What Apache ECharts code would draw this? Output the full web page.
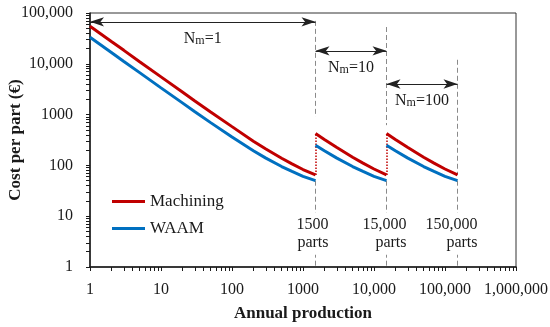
<!DOCTYPE html>
<html><head><meta charset="utf-8">
<script src="https://cdn.jsdelivr.net/npm/echarts@6/dist/echarts.min.js"></script>
<style>html,body{margin:0;padding:0;background:#fff}#c{width:550px;height:327px}</style>
</head><body><div id="c"></div>
<script>
// ---- data ----
const prodSeg1 = [1, 2, 3, 5, 10, 20, 30, 50, 100, 200, 300, 500, 700, 1000, 1500];
const machSeg1 = [55000, 27500, 18400, 11000, 5530, 2780, 1860, 1130, 580, 300, 210, 138, 107, 83, 65];
const waamSeg1 = [33400, 16700, 11100, 6700, 3360, 1700, 1140, 695, 361, 195, 139, 95, 76, 61, 50];
const prodSeg2 = [1500, 2000, 3000, 5000, 7000, 10000, 15000];
const machSeg2 = [425, 325, 225, 145, 111, 85, 65];
const waamSeg2 = [250, 195, 139, 95, 76, 61, 50];
const prodSeg3 = [15000, 20000, 30000, 50000, 70000, 100000, 150000];
const machSeg3 = [425, 325, 225, 145, 111, 85, 65];
const waamSeg3 = [250, 195, 139, 95, 76, 61, 50];

const seriesNames = ['Machining', 'WAAM'];
const dividerX = [1500, 15000, 150000];
const dividerTop = [70000, 53000, 12000];
const dividerUpperEnd = [900, 620, 65];
const dividerLowerStart = [50, 50, 50];
const jumpX = [1500, 15000];
const jumpLow = [65, 65];
const jumpHigh = [425, 425];
const arrowFrom = [1, 1500, 15000];
const arrowTo = [1500, 15000, 150000];
const arrowY = [67000, 18000, 4000];
const arrowNm = ['1', '10', '100'];
const partLabels = ['1500\nparts', '15,000\nparts', '150,000\nparts'];
const partLabelY = 4.5;
const xTickLabels = [1, 10, 100, 1000, 10000, 100000, 1000000];
const yTickLabels = [1, 10, 100, 1000, 10000, 100000];

// ---- styles ----
const FONT = '"Liberation Serif", "DejaVu Serif", serif';
const RED = '#C00000', BLUE = '#0070C0', INK = '#1a1a1a';

function fmt(v) {
  const r = Math.round(v);
  return r >= 10000 ? String(r).replace(/\B(?=(\d{3})+(?!\d))/g, ',') : String(r);
}
function minorTicks(decades) {
  const out = [];
  for (const d of decades.slice(0, -1)) for (let k = 1; k <= 9; k++) out.push(d * k);
  out.push(decades[decades.length - 1]);
  return out;
}
const zip = (xs, ys) => xs.map((x, i) => [x, ys[i]]);

function curve(name, xs, ys, color, z) {
  return { name, type: 'line', data: zip(xs, ys), symbol: 'none', silent: true, z,
    lineStyle: { color, width: 3 }, itemStyle: { color } };
}

const dashedData = [];
dividerX.forEach((x, i) => {
  dashedData.push([{ coord: [x, dividerTop[i]] }, { coord: [x, dividerUpperEnd[i]] }]);
  dashedData.push([{ coord: [x, dividerLowerStart[i]] }, { coord: [x, 1] }]);
});
const jumpData = jumpX.map((x, i) => [{ coord: [x, jumpLow[i]] }, { coord: [x, jumpHigh[i]] }]);
const arrowData = arrowFrom.map((x, i) => [
  { coord: [x, arrowY[i]], label: { formatter: '{n|N}{s|m}{n|=' + arrowNm[i] + '}' } },
  { coord: [arrowTo[i], arrowY[i]] }
]);
const partOffsets = [13, 20, 20];

const chart = echarts.init(document.getElementById('c'), null, { renderer: 'canvas' });
chart.setOption({
  animation: false,
  backgroundColor: '#fff',
  grid: { left: 90, right: 34, top: 13, bottom: 60, show: true, borderColor: '#333', borderWidth: 1,
          backgroundColor: 'transparent', outerBoundsMode: 'none' },
  legend: {
    data: seriesNames, orient: 'vertical', left: 112, top: 193, itemGap: 10, padding: 0,
    itemWidth: 33, itemHeight: 3, icon: 'rect',
    textStyle: { fontFamily: FONT, fontSize: 17, color: INK }
  },
  xAxis: {
    type: 'log', logBase: 10, min: 1, max: 1000000, interval: 1,
    name: 'Annual production', nameLocation: 'middle', nameGap: 38, nameMoveOverlap: false,
    nameTextStyle: { fontFamily: FONT, fontSize: 17, fontWeight: 'bold', color: INK },
    axisLine: { lineStyle: { color: INK, width: 1.5 } },
    axisTick: { show: true, length: 4, customValues: minorTicks(xTickLabels), lineStyle: { color: INK, width: 1 } },
    minorTick: { show: false },
    axisLabel: { fontFamily: FONT, fontSize: 16, color: INK, margin: 15, formatter: fmt },
    splitLine: { show: false }
  },
  yAxis: {
    type: 'log', logBase: 10, min: 1, max: 100000, interval: 1,
    name: 'Cost per part (€)', nameLocation: 'middle', nameGap: 74, nameMoveOverlap: false,
    nameTextStyle: { fontFamily: FONT, fontSize: 17, fontWeight: 'bold', color: INK, verticalAlign: 'middle' },
    axisLine: { lineStyle: { color: INK, width: 1.5 } },
    axisTick: { show: true, length: 4, customValues: minorTicks(yTickLabels), lineStyle: { color: INK, width: 1 } },
    minorTick: { show: false },
    axisLabel: { fontFamily: FONT, fontSize: 16, color: INK, margin: 17, formatter: fmt },
    splitLine: { show: false }
  },
  series: [
    { name: 'guides', type: 'line', data: [], z: 1, silent: true,
      markLine: { silent: true, symbol: ['none', 'none'], animation: false,
        lineStyle: { color: '#8a8a8a', width: 1, type: [5, 3] }, label: { show: false },
        data: dashedData } },
    { name: 'jumps', type: 'line', data: [], z: 2, silent: true,
      markLine: { silent: true, symbol: ['none', 'none'], animation: false,
        lineStyle: { color: RED, width: 1.5, type: [1.5, 1.5] }, label: { show: false },
        data: jumpData } },
    { name: 'arrows', type: 'line', data: [], z: 3, silent: true,
      markLine: { silent: true, symbol: ['arrow', 'arrow'], symbolSize: [7, 14], animation: false,
        lineStyle: { color: '#222', width: 1, type: 'solid' },
        label: { show: true, position: 'insideMiddleBottom', distance: 9, color: INK,
          rich: {
            n: { fontFamily: FONT, fontSize: 16, color: INK, lineHeight: 16, verticalAlign: 'middle' },
            s: { fontFamily: FONT, fontSize: 12, color: INK, lineHeight: 10, verticalAlign: 'bottom' }
          } },
        data: arrowData } },
    curve('Machining', prodSeg1, machSeg1, RED, 5),
    curve('Machining', prodSeg2, machSeg2, RED, 5),
    curve('Machining', prodSeg3, machSeg3, RED, 5),
    curve('WAAM', prodSeg1, waamSeg1, BLUE, 6),
    curve('WAAM', prodSeg2, waamSeg2, BLUE, 6),
    curve('WAAM', prodSeg3, waamSeg3, BLUE, 6),
    { name: 'parts', type: 'scatter', symbolSize: 0, z: 7, silent: true,
      itemStyle: { opacity: 1, color: '#fff' },
      data: dividerX.map((x, i) => ({ value: [x, partLabelY],
        label: { show: true, formatter: partLabels[i], position: 'right', distance: 0,
          align: 'right', verticalAlign: 'middle',
          offset: [partOffsets[i], 0], fontFamily: FONT, fontSize: 16, lineHeight: 18, color: INK,
          textBorderWidth: 0, opacity: 1, backgroundColor: '#fff', padding: [3, 0] } })) }
  ]
});
</script></body></html>
